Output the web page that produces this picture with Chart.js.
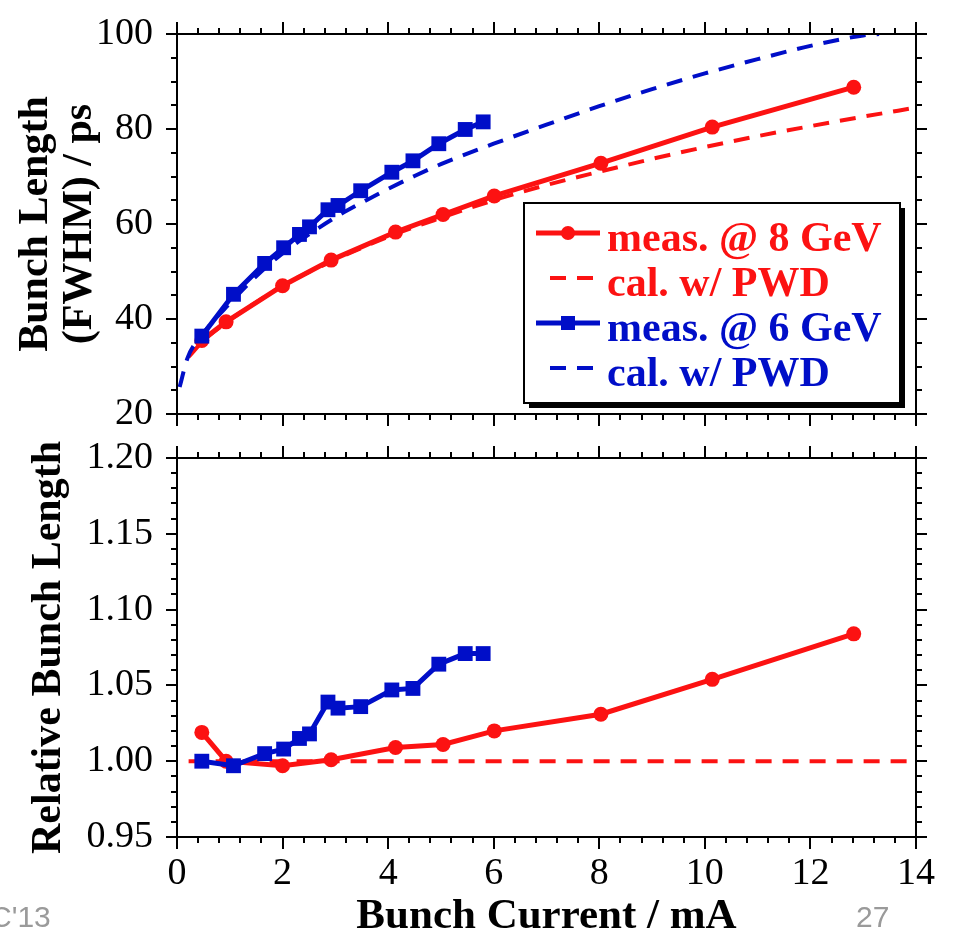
<!DOCTYPE html>
<html>
<head>
<meta charset="utf-8">
<script src="https://cdn.jsdelivr.net/npm/chart.js@4.4.1/dist/chart.umd.min.js"></script>
<style>
  html, body { margin: 0; padding: 0; background: #fff; overflow: hidden; }
  #top { position: absolute; left: 0; top: 0; width: 955px; height: 440px; }
  #bottom { position: absolute; left: 0; top: 420px; width: 955px; height: 516px; }
  .slide { position: absolute; font-family: 'Liberation Sans', Arial, sans-serif; color: #9a9a9a; font-size: 30px; line-height: 30px; }
</style>
</head>
<body>
<div id="top"><canvas id="lengthChart"></canvas></div>
<div id="bottom"><canvas id="relChart"></canvas></div>
<div class="slide" style="left:-10px; top:902px">C'13</div>
<div class="slide" style="left:856px; top:902px">27</div>
<script>
// measured points, 8 GeV (circles)
const current8 = [0.47, 0.93, 2.0, 2.92, 4.14, 5.04, 6.01, 8.03, 10.14, 12.82];
const length8 = [35.5, 39.4, 47.0, 52.4, 58.3, 62.0, 65.9, 72.8, 80.4, 88.8];
const relative8 = [1.019, 1.000, 0.997, 1.001, 1.009, 1.011, 1.020, 1.031, 1.054, 1.084];

// measured points, 6 GeV (squares)
const current6 = [0.47, 1.07, 1.66, 2.02, 2.32, 2.51, 2.86, 3.05, 3.48, 4.07, 4.47, 4.96, 5.46, 5.80];
const length6 = [36.4, 45.2, 51.7, 55.0, 57.8, 59.4, 63.0, 63.9, 67.0, 70.9, 73.3, 76.9, 79.9, 81.5];
const relative6 = [1.000, 0.997, 1.005, 1.008, 1.015, 1.018, 1.039, 1.035, 1.036, 1.047, 1.048, 1.064, 1.071, 1.071];

// calculation w/ PWD
const calcCurrent8 = [0.22, 0.5, 1, 1.5, 2, 3, 4, 5, 6, 7, 8, 9, 10, 11, 12, 13, 14];
const calcLength8 = [32.0, 35.4, 39.8, 43.5, 47.0, 52.5, 57.3, 61.3, 65.0, 68.2, 71.0, 73.7, 76.2, 78.5, 80.6, 82.6, 84.5];
const calcCurrent6 = [0.05, 0.2, 0.5, 1, 1.5, 2, 2.5, 3, 3.5, 4, 4.5, 5, 6, 7, 8, 9, 10, 11, 12, 13, 13.3];
const calcLength6 = [25.7, 31.8, 37.0, 43.3, 49.0, 53.8, 57.8, 61.4, 64.5, 67.4, 70.1, 72.6, 76.9, 80.9, 84.8, 88.4, 91.7, 94.7, 97.5, 99.7, 100];
const calcRelCurrent = [0.22, 14];
const calcRelative = [1.0, 1.0];

const xTicks = {min: 0, max: 14, step: 2, minor: 0.4};
const lenTicks = {min: 20, max: 100, step: 20, minor: 5};
const relTicks = {min: 0.95, max: 1.20, step: 0.05, minor: 0.01};

const RED = 'rgb(252,18,18)';
const BLUE = 'rgb(0,14,200)';
const DASH = [16, 11];

function pts(xs, ys) { return xs.map((x, i) => ({x: x, y: ys[i]})); }

Chart.defaults.font.family = "'Liberation Serif', 'Times New Roman', serif";
Chart.defaults.color = '#000';
Chart.defaults.animation = false;

// frame with outward ticks on all four sides
const frameTicks = {
  id: 'frameTicks',
  afterDraw(chart, args, opts) {
    const {ctx, chartArea: a, scales: {x, y}} = chart;
    ctx.save();
    ctx.strokeStyle = '#000';
    ctx.lineWidth = 2;
    ctx.beginPath();
    let n = Math.round((opts.x.max - opts.x.min) / opts.x.minor);
    for (let i = 0; i <= n; i++) {
      const v = opts.x.min + i * opts.x.minor;
      const px = Math.round(x.getPixelForValue(v));
      const len = (i % Math.round(opts.x.step / opts.x.minor) === 0) ? 12 : 6;
      ctx.moveTo(px, a.bottom); ctx.lineTo(px, a.bottom + len);
      ctx.moveTo(px, a.top); ctx.lineTo(px, a.top - len);
    }
    n = Math.round((opts.y.max - opts.y.min) / opts.y.minor);
    for (let i = 0; i <= n; i++) {
      const v = opts.y.min + i * opts.y.minor;
      const py = Math.round(y.getPixelForValue(v));
      const len = (i % Math.round(opts.y.step / opts.y.minor) === 0) ? 11 : 6;
      ctx.moveTo(a.left, py); ctx.lineTo(a.left - len, py);
      ctx.moveTo(a.right, py); ctx.lineTo(a.right + len, py);
    }
    ctx.stroke();
    ctx.strokeRect(a.left, a.top, a.right - a.left, a.bottom - a.top);
    ctx.restore();
  }
};

// boxed legend with drop shadow inside the top plot
const boxLegend = {
  id: 'boxLegend',
  afterDraw(chart, args, opts) {
    if (!opts.show) return;
    const {ctx, chartArea: a} = chart;
    const left = a.right - 392, top = a.top + 169, w = 376, h = 200;
    ctx.save();
    ctx.fillStyle = '#000';
    ctx.fillRect(left + 5, top + 5, w, h);
    ctx.fillStyle = '#fff';
    ctx.fillRect(left, top, w, h);
    ctx.strokeStyle = '#000';
    ctx.lineWidth = 2;
    ctx.strokeRect(left, top, w, h);
    chart.data.datasets.forEach((ds, i) => {
      const cy = top + 30 + i * 45;
      ctx.strokeStyle = ds.borderColor;
      ctx.fillStyle = ds.borderColor;
      ctx.lineWidth = ds.borderWidth;
      ctx.beginPath();
      if (ds.borderDash) {
        ctx.setLineDash(ds.borderDash);
        ctx.moveTo(left + 26, cy); ctx.lineTo(left + 73, cy);
      } else {
        ctx.setLineDash([]);
        ctx.moveTo(left + 12, cy); ctx.lineTo(left + 76, cy);
      }
      ctx.stroke();
      ctx.setLineDash([]);
      if (!ds.borderDash) {
        const mx = left + 44;
        if (ds.pointStyle === 'rect') {
          ctx.fillRect(mx - 7, cy - 7, 14, 14);
        } else {
          ctx.beginPath();
          ctx.arc(mx, cy, 7, 0, Math.PI * 2);
          ctx.fill();
        }
      }
      ctx.font = "bold 42px 'Liberation Serif', 'Times New Roman', serif";
      ctx.textBaseline = 'alphabetic';
      ctx.textAlign = 'left';
      ctx.fillText(ds.label, left + 83, cy + 18);
    });
    ctx.restore();
  }
};

// invisible tick marks push the labels away from the frame
const spacer = {display: true, drawOnChartArea: false, drawTicks: true, tickLength: 24, tickColor: 'rgba(0,0,0,0)'};

function xScale(showLabels, height) {
  return {
    type: 'linear', min: xTicks.min, max: xTicks.max,
    grid: Object.assign({}, spacer, {tickLength: 14}), border: {display: false},
    ticks: {display: showLabels, stepSize: xTicks.step, maxRotation: 0, autoSkip: false,
            padding: 0, font: {size: 38}},
    title: {display: showLabels, text: 'Bunch Current / mA',
            font: {size: 43, weight: 'bold', lineHeight: 0.9}, padding: {top: 0, bottom: 0}},
    afterFit(scale) { scale.height = height; }
  };
}

function yScale(t, title, titlePad, fmt) {
  return {
    min: t.min, max: t.max,
    grid: spacer, border: {display: false},
    ticks: {stepSize: t.step, padding: 0, font: {size: 38}, callback: fmt},
    title: {display: true, text: title,
            font: {size: 42, weight: 'bold', lineHeight: 1.05}, padding: {top: titlePad, bottom: 0}},
    afterFit(scale) { scale.width = 177; }
  };
}

new Chart(document.getElementById('lengthChart'), {
  type: 'line',
  data: {
    datasets: [
      {label: 'meas. @ 8 GeV', data: pts(current8, length8), borderColor: RED, backgroundColor: RED,
       borderWidth: 5, pointStyle: 'circle', pointRadius: 7.5, pointBorderWidth: 0, order: 1},
      {label: 'cal. w/ PWD', data: pts(calcCurrent8, calcLength8), borderColor: RED, borderWidth: 4,
       borderDash: DASH, pointRadius: 0, cubicInterpolationMode: 'monotone', order: 3},
      {label: 'meas. @ 6 GeV', data: pts(current6, length6), borderColor: BLUE, backgroundColor: BLUE,
       borderWidth: 5, pointStyle: 'rect', pointRadius: 10.5, pointBorderWidth: 0, order: 0},
      {label: 'cal. w/ PWD', data: pts(calcCurrent6, calcLength6), borderColor: BLUE, borderWidth: 4,
       borderDash: DASH, pointRadius: 0, cubicInterpolationMode: 'monotone', order: 2}
    ]
  },
  options: {
    responsive: true, maintainAspectRatio: false,
    layout: {padding: {top: 34, right: 39, left: 0, bottom: 0}},
    scales: {
      x: xScale(false, 26),
      y: yScale(lenTicks, ['Bunch Length', '(FWHM) / ps'], 14, v => v)
    },
    plugins: {
      legend: {display: false},
      tooltip: {enabled: false},
      frameTicks: {x: xTicks, y: lenTicks},
      boxLegend: {show: true}
    }
  },
  plugins: [frameTicks, boxLegend]
});

new Chart(document.getElementById('relChart'), {
  type: 'line',
  data: {
    datasets: [
      {label: 'meas. @ 8 GeV', data: pts(current8, relative8), borderColor: RED, backgroundColor: RED,
       borderWidth: 5, pointStyle: 'circle', pointRadius: 7.5, pointBorderWidth: 0, order: 1},
      {label: 'cal. w/ PWD', data: pts(calcRelCurrent, calcRelative), borderColor: RED, borderWidth: 4,
       borderDash: DASH, pointRadius: 0, order: 3},
      {label: 'meas. @ 6 GeV', data: pts(current6, relative6), borderColor: BLUE, backgroundColor: BLUE,
       borderWidth: 5, pointStyle: 'rect', pointRadius: 10.5, pointBorderWidth: 0, order: 0}
    ]
  },
  options: {
    responsive: true, maintainAspectRatio: false,
    layout: {padding: {top: 38, right: 39, left: 0, bottom: 0}},
    scales: {
      x: xScale(true, 99),
      y: yScale(relTicks, 'Relative Bunch Length', 27, v => v.toFixed(2))
    },
    plugins: {
      legend: {display: false},
      tooltip: {enabled: false},
      frameTicks: {x: xTicks, y: relTicks},
      boxLegend: {show: false}
    }
  },
  plugins: [frameTicks, boxLegend]
});
</script>
</body>
</html>
